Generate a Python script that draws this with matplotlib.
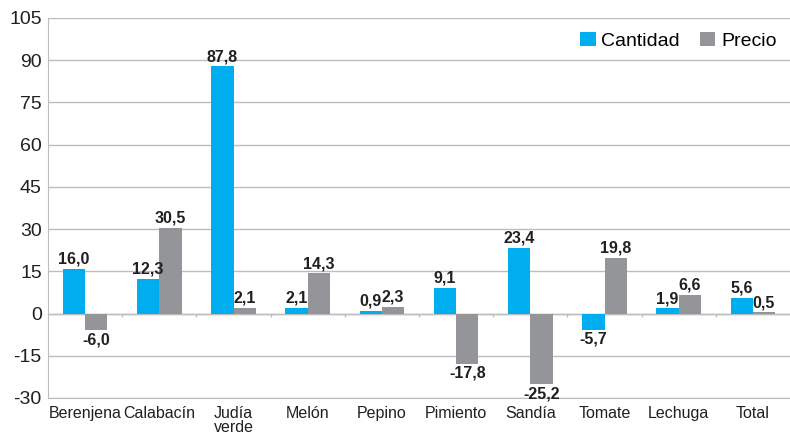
import numpy as np
import matplotlib.pyplot as plt

plt.rcParams["font.family"] = ["Liberation Sans", "DejaVu Sans"]

categorias = ["Berenjena", "Calabacín", "Judía\nverde", "Melón", "Pepino",
              "Pimiento", "Sandía", "Tomate", "Lechuga", "Total"]
cantidad = [16.0, 12.3, 87.8, 2.1, 0.9, 9.1, 23.4, -5.7, 1.9, 5.6]
precio = [-6.0, 30.5, 2.1, 14.3, 2.3, -17.8, -25.2, 19.8, 6.6, 0.5]
yticks = [-30, -15, 0, 15, 30, 45, 60, 75, 90, 105]

azul = "#00AEEF"
gris = "#939598"
linea = "#BDBDBD"
texto = "#231F20"

fig = plt.figure(figsize=(7.9, 4.34), dpi=100)
ax = fig.add_axes([48 / 790, 36 / 434, 742 / 790, 380 / 434])

x = np.arange(len(categorias))
w = 0.3
b1 = ax.bar(x - w / 2, cantidad, w, color=azul, label="Cantidad", zorder=3)
b2 = ax.bar(x + w / 2, precio, w, color=gris, label="Precio", zorder=3)

def etiquetas(barras, valores):
    for r, v in zip(barras, valores):
        xc = r.get_x() + r.get_width() / 2
        off = 1.5 if v >= 0 else -1.5
        ax.annotate(f"{v:.1f}".replace(".", ","), (xc, v), xytext=(0, off),
                    textcoords="offset points", ha="center",
                    va="bottom" if v >= 0 else "top",
                    fontsize=11.5, fontweight="bold", color=texto, zorder=4)

etiquetas(b1, cantidad)
etiquetas(b2, precio)

ax.set_xlim(-0.5, len(categorias) - 0.5)
ax.set_ylim(-30, 105)
ax.set_yticks(yticks)
ax.set_yticklabels([str(t) for t in yticks], fontsize=14, color=texto)
ax.yaxis.grid(True, color=linea, linewidth=1, zorder=0)
ax.tick_params(axis="y", length=0, pad=4.5)

ax.set_xticks(x)
ax.set_xticklabels(categorias, fontsize=11.5, color=texto, linespacing=0.92)
ax.tick_params(axis="x", length=0, pad=6)

# eje cero con marcas entre categorías
ax.axhline(0, color=linea, linewidth=1, zorder=2)
ax.vlines(x[:-1] + 0.5, -1.2, 0, color=linea, linewidth=1, zorder=2)

for s in ["top", "right"]:
    ax.spines[s].set_visible(False)
ax.spines["left"].set_color(linea)
ax.spines["bottom"].set_color(linea)

ax.legend(loc="upper right", bbox_to_anchor=(1.0, 1.0), frameon=False,
          fontsize=14, handlelength=0.8, handleheight=0.8, handletextpad=0.3,
          columnspacing=1.0, ncol=2, borderaxespad=0.3)

fig.savefig("out.png", dpi=100)
